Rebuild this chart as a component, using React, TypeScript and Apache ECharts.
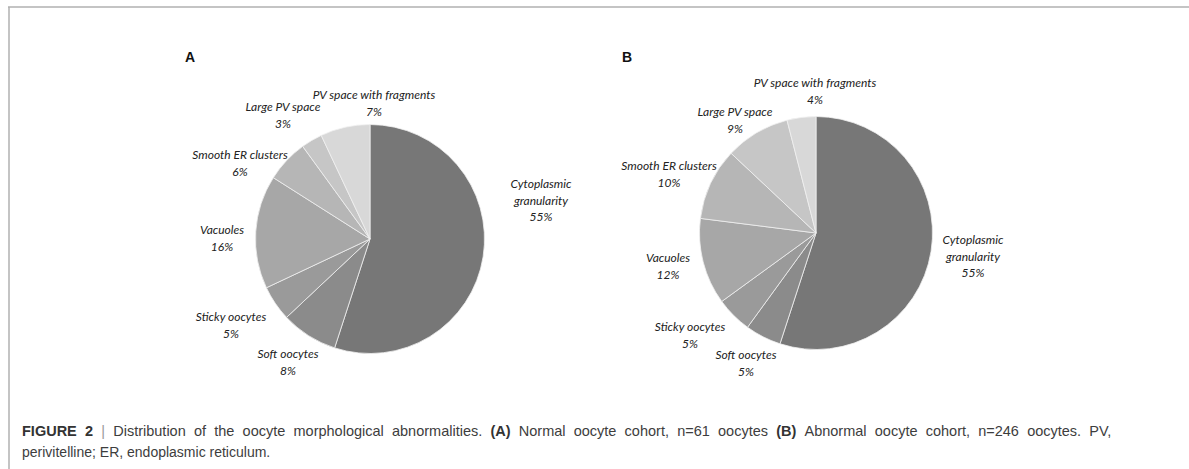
import React, { useEffect, useRef } from "react";
import * as echarts from "echarts";

const categories = [
  "Cytoplasmic granularity",
  "Soft oocytes",
  "Sticky oocytes",
  "Vacuoles",
  "Smooth ER clusters",
  "Large PV space",
  "PV space with fragments",
];
const normalCohortPct = [55, 8, 5, 16, 6, 3, 7];
const abnormalCohortPct = [55, 5, 5, 12, 10, 9, 4];
const sliceColors = ["#777777", "#8b8b8b", "#9a9a9a", "#a7a7a7", "#b6b6b6", "#c6c6c6", "#d8d8d8"];
const panelLetters = ["A", "B"];

// label layout (pixel positions of label block centres)
const labelPosA: [number, number][] = [
  [541, 200],
  [288, 362],
  [231, 325],
  [222, 238],
  [240, 163],
  [283, 115],
  [374, 103],
];
const labelPosB: [number, number][] = [
  [973, 256],
  [746, 363],
  [690, 335],
  [668, 266],
  [669, 174],
  [735, 120],
  [815, 91],
];

// caption: first line is justified; words marked with * are bold
const captionLine1Words = [
  "*FIGURE", "*2", "|", "Distribution", "of", "the", "oocyte", "morphological", "abnormalities.",
  "*(A)", "Normal", "oocyte", "cohort,", "n=61", "oocytes", "*(B)", "Abnormal", "oocyte", "cohort,",
  "n=246", "oocytes.", "PV,",
];
const captionLine2 = "perivitelline; ER, endoplasmic reticulum.";

function buildCaption1() {
  return captionLine1Words
    .map((w) => {
      if (w.startsWith("*")) return "{b|" + w.slice(1) + "}";
      if (w === "|") return "{s||}";
      return "{n|" + w + "}";
    })
    .join("{w| }");
}

function makeData(values: number[]) {
  return categories.map((name, i) => ({
    name,
    value: values[i],
    itemStyle: { color: sliceColors[i] },
  }));
}

function labelFormatter(p: any) {
  const n = p.name === "Cytoplasmic granularity" ? "Cytoplasmic\ngranularity" : p.name;
  return n + "\n" + p.value + "%";
}

export default function App() {
  const ref = useRef<HTMLDivElement>(null);
  useEffect(() => {
    if (!ref.current) return;
    const chart = echarts.init(ref.current, undefined, { renderer: "svg" });
    const labelStyle = {
      show: true,
      position: "outside" as const,
      formatter: labelFormatter,
      fontFamily: "Lato",
      fontStyle: "italic" as const,
      fontSize: 12,
      color: "#222222",
      lineHeight: 16.5,
      align: "center" as const,
    };
    const mkSeries = (values: number[], center: [number, number], r: number, pos: [number, number][]) => ({
      type: "pie" as const,
      center,
      radius: r,
      startAngle: 90,
      clockwise: true,
      avoidLabelOverlap: false,
      data: makeData(values),
      itemStyle: { borderColor: "#f0f0f0", borderWidth: 0.8 },
      label: labelStyle,
      labelLine: { show: false },
      labelLayout: (params: any) => ({
        x: pos[params.dataIndex][0],
        y: pos[params.dataIndex][1],
        align: "center",
        verticalAlign: "middle",
      }),
      emphasis: { disabled: true },
    });
    const capFont = "'Liberation Sans', Arial";
    const cs = 14.5;
    chart.setOption({
      animation: false,
      backgroundColor: "#ffffff",
      series: [
        mkSeries(normalCohortPct, [370, 239], 114.5, labelPosA),
        mkSeries(abnormalCohortPct, [816, 233], 116.5, labelPosB),
      ],
      graphic: [
        { type: "line", shape: { x1: 8, y1: 7, x2: 1189, y2: 7 }, style: { stroke: "#b0b0b0", lineWidth: 1.5 } },
        { type: "line", shape: { x1: 9, y1: 7, x2: 9, y2: 469 }, style: { stroke: "#b0b0b0", lineWidth: 1.5 } },
        {
          type: "text",
          x: 190,
          y: 57,
          style: { text: panelLetters[0], font: "bold 14px 'Liberation Sans', Arial", fill: "#111", align: "center", verticalAlign: "middle" },
        },
        {
          type: "text",
          x: 627,
          y: 57,
          style: { text: panelLetters[1], font: "bold 14px 'Liberation Sans', Arial", fill: "#111", align: "center", verticalAlign: "middle" },
        },
        {
          type: "text",
          x: 22,
          y: 431,
          style: {
            text: buildCaption1(),
            fontFamily: capFont,
            fontSize: cs,
            fill: "#3d3d3d",
            verticalAlign: "middle",
            rich: {
              n: { fontFamily: capFont, fontSize: cs, fill: "#3d3d3d" },
              b: { fontFamily: capFont, fontSize: cs, fontWeight: "bold", fill: "#333" },
              s: { fontFamily: capFont, fontSize: cs, fill: "#999" },
              w: { fontFamily: capFont, fontSize: cs, width: 8.2 },
            },
          },
        },
        {
          type: "text",
          x: 22,
          y: 452,
          style: {
            text: captionLine2,
            fontFamily: capFont,
            fontSize: 14,
            fill: "#3d3d3d",
            verticalAlign: "middle",
          },
        },
      ],
    });
    return () => chart.dispose();
  }, []);
  return <div ref={ref} style={{ position: "absolute", left: 0, top: 0, width: 1189, height: 469 }} />;
}
